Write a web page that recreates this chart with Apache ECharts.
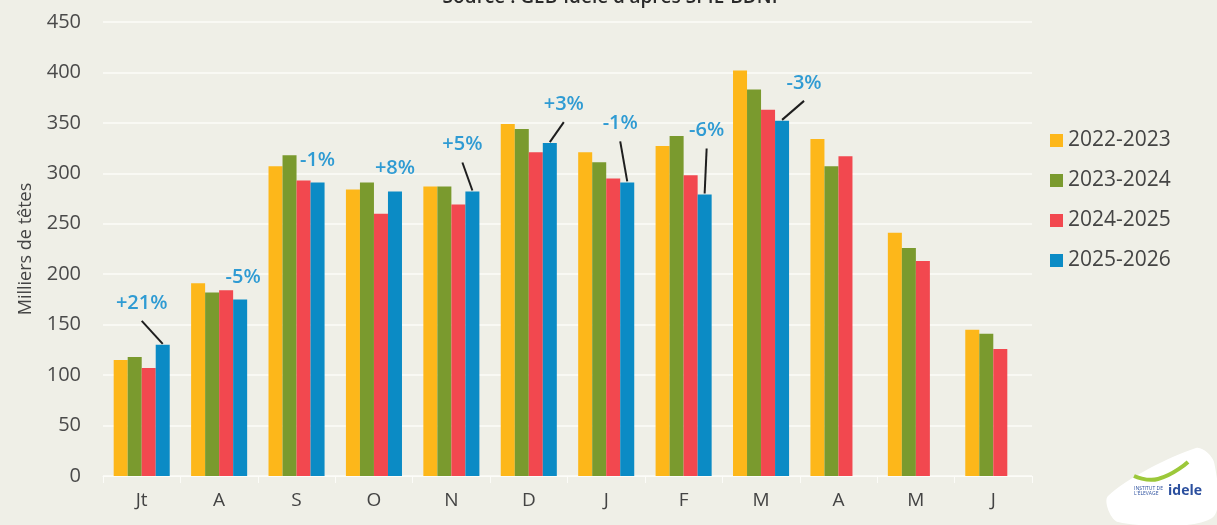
<!doctype html>
<html>
    <head>
        <meta charset="utf-8">
        <title>Abattages - ECHARTS</title>
        <style>
            html, body { margin: 0; padding: 0; background: #efefe7; }
            #main { width: 1217px; height: 525px; }
        </style>
    </head>
    <body>
        <div id="main"></div>
        <script src="https://cdn.jsdelivr.net/npm/echarts@6/dist/echarts.min.js"></script>
        <script>
            var months = ['Jt', 'A', 'S', 'O', 'N', 'D', 'J', 'F', 'M', 'A', 'M', 'J'];
            var campagnes = ['2022-2023', '2023-2024', '2024-2025', '2025-2026'];
            var s2223 = [115, 191, 307, 284, 287, 349, 321, 327, 402, 334, 241, 145];
            var s2324 = [118, 182, 318, 291, 287, 344, 311, 337, 383, 307, 226, 141];
            var s2425 = [107, 184, 293, 260, 269, 321, 295, 298, 363, 317, 213, 126];
            var s2526 = [130, 175, 291, 282, 282, 330, 291, 279, 352];
            var evolution = ['+21%', '-5%', '-1%', '+8%', '+5%', '+3%', '-1%', '-6%', '-3%'];

            // label offset from the blue bar top: [dx, dy, leader line]
            var labelPos = [[-21, -42, 1], [3, -22, 0], [0, -22, 0], [0, -23, 0], [-10, -47, 1],
                            [14, -39, 1], [-7, -59, 1], [2, -64, 1], [22, -38, 1]];

            var colors = ['#fdb71a', '#7a9a2e', '#f2484f', '#0b8bc5'];
            var FONT = 'Open Sans';
            var CAT_GAP = 0.276;
            var LIGHT = '#fcfcf8';

            var chart = echarts.init(document.getElementById('main'));

            var series = [s2223, s2324, s2425, s2526].map(function (vals, k) {
                return {
                    name: campagnes[k],
                    type: 'bar',
                    barGap: 0,
                    barCategoryGap: (CAT_GAP * 100) + '%',
                    itemStyle: { color: colors[k] },
                    data: vals
                };
            });

            series.push({
                type: 'custom',
                z: 10,
                silent: true,
                data: s2526.map(function (v, i) { return [i, v]; }),
                renderItem: function (params, api) {
                    var top = api.coord([api.value(0), api.value(1)]);
                    var band = api.size([1, 0])[0];
                    var bw = band * (1 - CAT_GAP) / 4;
                    var x = top[0] + 1.5 * bw;
                    var y = top[1];
                    var p = labelPos[params.dataIndex];
                    var children = [{
                        type: 'text',
                        style: {
                            text: evolution[params.dataIndex],
                            x: x + p[0],
                            y: y + p[1],
                            align: 'center',
                            verticalAlign: 'middle',
                            fill: '#2f9bd3',
                            font: '600 20px "' + FONT + '"'
                        }
                    }];
                    if (p[2]) {
                        children.push({
                            type: 'line',
                            shape: { x1: x, y1: y - 1, x2: x + p[0], y2: y + p[1] + 18 },
                            style: { stroke: '#1e1e1e', lineWidth: 2 }
                        });
                    }
                    return { type: 'group', children: children };
                }
            });

            chart.setOption({
                backgroundColor: '#efefe7',
                textStyle: { fontFamily: FONT },
                animation: false,
                grid: {
                    left: 103,
                    right: 185,
                    top: 22,
                    bottom: 49
                },
                legend: {
                    data: campagnes,
                    orient: 'vertical',
                    left: 1045,
                    top: 125,
                    itemWidth: 13,
                    itemHeight: 13,
                    itemGap: 19,
                    icon: 'rect',
                    textStyle: { color: '#444', fontSize: 21 }
                },
                xAxis: [{
                    type: 'category',
                    data: months,
                    axisLine: { show: true, lineStyle: { color: LIGHT, width: 1 } },
                    axisTick: {
                        show: true,
                        length: 7,
                        lineStyle: { color: LIGHT, width: 1 }
                    },
                    axisLabel: { color: '#444', fontSize: 19, margin: 15 }
                }],
                yAxis: [{
                    type: 'value',
                    min: 0,
                    max: 450,
                    interval: 50,
                    name: 'Milliers de têtes',
                    nameLocation: 'middle',
                    nameGap: 68,
                    nameTextStyle: { color: '#444', fontSize: 18 },
                    axisLine: { show: false },
                    axisTick: { show: false },
                    axisLabel: { color: '#4a4a4a', fontSize: 20, margin: 22 },
                    splitLine: { show: true, lineStyle: { color: LIGHT, width: 1.5 } }
                }],
                graphic: [
                    {
                        type: 'text',
                        x: 610,
                        y: -12,
                        style: {
                            text: "Source : GEB-Idele d'après SPIE-BDNI",
                            align: 'center',
                            fill: '#2a2a2a',
                            font: '600 19px "' + FONT + '"'
                        }
                    },
                    {
                        type: 'group',
                        x: 1106,
                        y: 446,
                        children: [
                            {
                                type: 'polygon',
                                shape: {
                                    points: [[2, 50], [90, 2], [108, 16], [106, 72], [12, 76]],
                                    smooth: 0.3
                                },
                                style: { fill: '#ffffff' }
                            },
                            {
                                type: 'polyline',
                                shape: { points: [[28, 30], [52, 33], [82, 16]], smooth: 0.5 },
                                style: { stroke: '#9cc83a', lineWidth: 4 }
                            },
                            {
                                type: 'text',
                                style: { text: 'idele', x: 62, y: 38, fill: '#2b4f9e', font: 'bold 14px "' + FONT + '"' }
                            },
                            {
                                type: 'text',
                                style: { text: "INSTITUT DE\nL'ÉLEVAGE", x: 28, y: 40, fill: '#2b4f9e', font: '5px "' + FONT + '"' }
                            }
                        ]
                    }
                ],
                series: series
            });

            window.onresize = chart.resize;
        </script>
    </body>
</html>
